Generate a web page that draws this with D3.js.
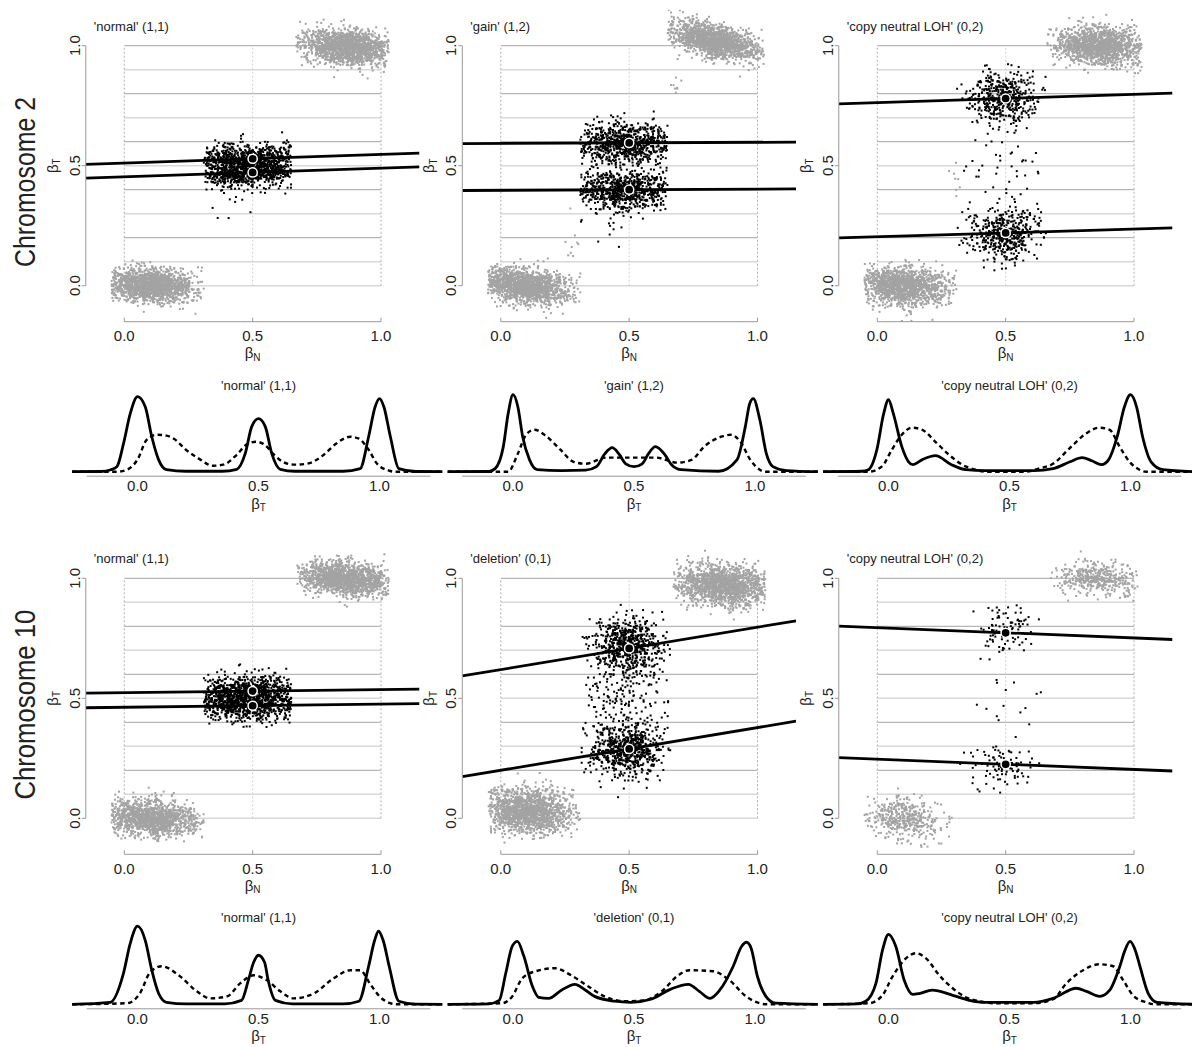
<!DOCTYPE html>
<html lang="en">
<head>
<meta charset="utf-8" />
<script src="https://d3js.org/d3.v7.min.js"></script>
<style>
  html, body { margin: 0; padding: 0; background: #fff; }
  text { font-family: "Liberation Sans", Arial, sans-serif; fill: #222; }
</style>
</head>
<body>
<svg id="canvas" width="1192" height="1047"></svg>
<script>
// ---- data ----
const panelTitles = ["'normal' (1,1)", "'gain' (1,2)", "'copy neutral LOH' (0,2)",
                     "'normal' (1,1)", "'deletion' (0,1)", "'copy neutral LOH' (0,2)"];
const rowLabels = ["Chromosome 2", "Chromosome 10"];
const tickValues = [0, 0.5, 1];
const tickLabels = ["0.0", "0.5", "1.0"];

// fitted lines: beta_T at beta_N = 0.5, and slope, two per panel
const fitMeans  = [[0.529, 0.472], [0.595, 0.400], [0.780, 0.220], [0.530, 0.469], [0.708, 0.289], [0.773, 0.225]];
const fitSlopes = [[0.036, 0.036], [0.005, 0.005], [0.034, 0.032], [0.013, 0.013], [0.177, 0.178], [-0.043, -0.043]];

// SNP clouds: panel, genotype group, n, muN, sdN, loN, hiN, muT, sdT, tilt
const clusters = [
  [0, "hom", 1500, 0.10, 0.09, -0.05, 0.31, 0.000, 0.035, -0.06],
  [0, "hom", 1500, 0.87, 0.09, 0.67, 1.03, 0.995, 0.035, -0.08],
  [0, "het", 650, 0.48, 0.11, 0.31, 0.65, 0.530, 0.032, 0.036],
  [0, "het", 650, 0.48, 0.11, 0.31, 0.65, 0.472, 0.032, 0.036],
  [0, "het", 8, 0.40, 0.06, 0.31, 0.60, 0.330, 0.040, 0],
  [1, "hom", 1500, 0.09, 0.09, -0.05, 0.31, 0.000, 0.035, -0.15],
  [1, "hom", 1500, 0.83, 0.09, 0.65, 1.03, 1.020, 0.035, -0.25],
  [1, "het", 750, 0.48, 0.11, 0.31, 0.65, 0.595, 0.042, 0.005],
  [1, "het", 750, 0.48, 0.11, 0.31, 0.65, 0.400, 0.042, 0.005],
  [1, "het", 10, 0.40, 0.05, 0.31, 0.50, 0.240, 0.040, 0],
  [1, "hom", 10, 0.29, 0.02, 0.25, 0.31, 0.160, 0.050, 0],
  [1, "hom", 8, 0.69, 0.02, 0.66, 0.73, 0.850, 0.040, 0],
  [2, "hom", 1400, 0.10, 0.09, -0.05, 0.31, 0.000, 0.040, -0.05],
  [2, "hom", 1400, 0.87, 0.09, 0.66, 1.03, 1.000, 0.040, -0.05],
  [2, "het", 450, 0.49, 0.07, 0.31, 0.66, 0.780, 0.055, 0.03],
  [2, "het", 450, 0.49, 0.07, 0.31, 0.66, 0.220, 0.055, 0.03],
  [2, "het", 35, 0.48, 0.11, 0.31, 0.66, 0.500, 0.070, 0],
  [2, "hom", 8, 0.31, 0.02, 0.27, 0.33, 0.450, 0.050, 0],
  [3, "hom", 1400, 0.10, 0.09, -0.05, 0.31, 0.000, 0.035, -0.05],
  [3, "hom", 1400, 0.86, 0.09, 0.67, 1.03, 1.000, 0.035, -0.08],
  [3, "het", 650, 0.48, 0.11, 0.31, 0.65, 0.530, 0.032, 0.013],
  [3, "het", 650, 0.48, 0.11, 0.31, 0.65, 0.469, 0.032, 0.013],
  [4, "hom", 1500, 0.10, 0.09, -0.05, 0.31, 0.030, 0.045, -0.05],
  [4, "hom", 1500, 0.87, 0.09, 0.67, 1.03, 0.970, 0.040, -0.05],
  [4, "het", 650, 0.49, 0.07, 0.31, 0.66, 0.710, 0.060, 0],
  [4, "het", 650, 0.49, 0.07, 0.31, 0.66, 0.290, 0.060, 0],
  [4, "het", 140, 0.48, 0.11, 0.31, 0.66, 0.500, 0.080, 0],
  [5, "hom", 420, 0.10, 0.08, -0.05, 0.31, 0.000, 0.040, -0.12],
  [5, "hom", 420, 0.86, 0.08, 0.66, 1.03, 1.000, 0.035, -0.05],
  [5, "het", 90, 0.50, 0.07, 0.31, 0.66, 0.780, 0.060, 0],
  [5, "het", 90, 0.50, 0.07, 0.31, 0.66, 0.220, 0.050, 0],
  [5, "het", 15, 0.52, 0.10, 0.31, 0.66, 0.470, 0.070, 0]
];

// density of beta_T, [beta, density], solid and dotted curve per panel
const densitySolid = [
  [[-0.27,0],[-0.15,0.01],[-0.11,0.09],[-0.085,0.23],[-0.058,1.27],[-0.03,2.64],[0,3.41],[0.032,2.95],[0.059,1.59],[0.087,0.55],[0.12,0.09],[0.2,0.02],[0.35,0.02],[0.41,0.11],[0.445,0.82],[0.472,2.05],[0.5,2.41],[0.528,2.05],[0.555,0.82],[0.59,0.11],[0.65,0.02],[0.85,0.02],[0.92,0.14],[0.955,1.59],[0.982,2.95],[1,3.32],[1.018,2.95],[1.045,1.59],[1.08,0.14],[1.15,0.01],[1.26,0]],
  [[-0.27,0],[-0.1,0.01],[-0.074,0.14],[-0.04,1.14],[-0.02,2.64],[0,3.5],[0.02,2.95],[0.04,1.59],[0.068,0.55],[0.1,0.09],[0.2,0.05],[0.3,0.07],[0.345,0.23],[0.38,0.82],[0.41,1.09],[0.44,0.77],[0.466,0.36],[0.5,0.23],[0.534,0.36],[0.56,0.82],[0.588,1.14],[0.628,0.77],[0.655,0.32],[0.696,0.09],[0.85,0.02],[0.926,0.55],[0.96,2.05],[0.978,3.09],[0.993,3.32],[1.02,2.36],[1.047,0.82],[1.074,0.23],[1.13,0.05],[1.26,0]],
  [[-0.27,0],[-0.11,0.02],[-0.083,0.09],[-0.048,1.0],[-0.02,2.64],[0,3.27],[0.02,2.64],[0.055,1.14],[0.083,0.45],[0.1,0.32],[0.14,0.55],[0.194,0.73],[0.26,0.32],[0.32,0.09],[0.4,0.05],[0.6,0.05],[0.68,0.14],[0.75,0.45],[0.8,0.64],[0.84,0.5],[0.88,0.32],[0.91,0.55],[0.945,1.59],[0.975,2.95],[1,3.5],[1.025,2.95],[1.05,1.59],[1.085,0.45],[1.134,0.09],[1.26,0]],
  [[-0.27,0],[-0.113,0.09],[-0.058,1.41],[-0.03,2.77],[0,3.55],[0.032,2.91],[0.059,1.55],[0.087,0.5],[0.12,0.09],[0.2,0.02],[0.36,0.02],[0.43,0.18],[0.458,1.09],[0.48,1.91],[0.5,2.23],[0.525,1.91],[0.54,1.09],[0.57,0.18],[0.64,0.02],[0.85,0.02],[0.915,0.14],[0.955,1.73],[0.98,2.91],[0.996,3.32],[1.015,2.91],[1.04,1.73],[1.08,0.14],[1.15,0.01],[1.26,0]],
  [[-0.27,0],[-0.1,0.02],[-0.057,0.18],[-0.03,1.41],[-0.003,2.64],[0.018,2.86],[0.045,2.18],[0.08,0.82],[0.106,0.32],[0.147,0.27],[0.2,0.64],[0.256,0.91],[0.3,0.64],[0.337,0.36],[0.42,0.14],[0.487,0.09],[0.57,0.23],[0.65,0.68],[0.725,0.91],[0.77,0.59],[0.814,0.27],[0.854,0.64],[0.91,1.73],[0.945,2.64],[0.965,2.82],[0.984,2.55],[1.01,1.27],[1.045,0.36],[1.085,0.05],[1.26,0]],
  [[-0.27,0],[-0.13,0.02],[-0.094,0.14],[-0.052,0.95],[-0.025,2.45],[0,3.18],[0.03,2.64],[0.065,1.09],[0.1,0.45],[0.13,0.5],[0.18,0.64],[0.265,0.41],[0.334,0.18],[0.4,0.09],[0.6,0.09],[0.68,0.27],[0.776,0.73],[0.818,0.59],[0.873,0.36],[0.914,0.64],[0.956,1.73],[0.977,2.45],[0.998,2.86],[1.02,2.45],[1.039,1.73],[1.073,0.5],[1.11,0.09],[1.26,0]]
];
const densityDotted = [
  [[-0.27,0],[-0.085,0],[-0.044,0.09],[0,0.55],[0.038,1.45],[0.08,1.68],[0.12,1.64],[0.15,1.5],[0.2,1.0],[0.26,0.55],[0.31,0.27],[0.355,0.32],[0.41,0.77],[0.45,1.23],[0.49,1.36],[0.525,1.23],[0.56,0.82],[0.6,0.45],[0.645,0.32],[0.7,0.36],[0.77,0.77],[0.82,1.27],[0.88,1.59],[0.915,1.5],[0.955,1.0],[0.99,0.36],[1.04,0.05],[1.06,0],[1.26,0]],
  [[-0.27,0],[-0.02,0],[0.02,0.82],[0.054,1.68],[0.088,1.91],[0.14,1.59],[0.196,1.0],[0.25,0.45],[0.3,0.36],[0.385,0.64],[0.49,0.64],[0.59,0.64],[0.68,0.41],[0.74,0.55],[0.79,1.14],[0.86,1.59],[0.9,1.68],[0.94,1.36],[0.98,0.55],[1.02,0.09],[1.04,0],[1.26,0]],
  [[-0.27,0],[-0.083,0],[-0.028,0.23],[0.014,1.0],[0.055,1.68],[0.097,2.0],[0.138,1.91],[0.194,1.36],[0.25,0.77],[0.304,0.32],[0.36,0.09],[0.4,0],[0.567,0],[0.62,0.14],[0.68,0.36],[0.747,1.05],[0.816,1.73],[0.87,2.0],[0.913,1.91],[0.955,1.14],[0.996,0.45],[1.037,0.09],[1.065,0],[1.26,0]],
  [[-0.27,0],[-0.044,0.05],[0.01,0.5],[0.052,1.45],[0.1,1.73],[0.176,1.27],[0.245,0.59],[0.3,0.27],[0.37,0.36],[0.424,0.95],[0.48,1.32],[0.535,1.09],[0.59,0.59],[0.645,0.27],[0.73,0.5],[0.81,1.18],[0.88,1.55],[0.92,1.55],[0.96,0.95],[1.0,0.36],[1.044,0.05],[1.07,0],[1.26,0]],
  [[-0.27,0],[-0.044,0.05],[-0.003,0.36],[0.038,1.18],[0.093,1.5],[0.174,1.64],[0.24,1.32],[0.31,0.82],[0.378,0.36],[0.46,0.14],[0.54,0.18],[0.62,0.64],[0.677,1.27],[0.73,1.55],[0.827,1.5],[0.895,1.09],[0.963,0.36],[1.018,0.05],[1.05,0],[1.26,0]],
  [[-0.27,0],[-0.08,0.05],[-0.025,0.41],[0.017,1.27],[0.072,2.09],[0.113,2.32],[0.155,2.09],[0.21,1.32],[0.265,0.73],[0.32,0.32],[0.376,0.14],[0.43,0.05],[0.6,0.05],[0.68,0.23],[0.735,0.95],[0.804,1.55],[0.873,1.82],[0.928,1.73],[0.97,1.09],[1.01,0.41],[1.066,0.09],[1.1,0],[1.26,0]]
];

// ---- drawing ----
const svg = d3.select("#canvas");
const colStep = 376.5, rowStep = 532.6;

// seeded generator so the clouds are stable between runs
const z = d3.randomNormal.source(d3.randomLcg(0.4172))(0, 1);
function truncNormal(mu, sd, lo, hi) {
  let v;
  do { v = mu + sd * z(); } while (v < lo || v > hi);
  return v;
}

function betaLabel(sel, sub) {
  sel.append("tspan").text("\u03b2");
  sel.append("tspan").attr("font-size", 10).attr("dy", 2.5).text(sub);
}

panelTitles.forEach(function(title, p) {
  var row = Math.floor(p / 3), col = p % 3;
  var ox = col * colStep, oy = row * rowStep;
  var x = d3.scaleLinear().domain([0, 1]).range([124.3 + ox, 381 + ox]);
  var y = d3.scaleLinear().domain([0, 1]).range([285.7 + oy, 45.7 + oy]);
  var g = svg.append("g");

  g.append("clipPath").attr("id", "clip" + p).append("rect")
    .attr("x", x(-0.15)).attr("y", y(1.15))
    .attr("width", x(1.15) - x(-0.15)).attr("height", y(-0.15) - y(1.15));

  // grid
  g.selectAll(".hgrid").data(d3.range(0, 11)).join("line")
    .attr("x1", x(0)).attr("x2", x(1))
    .attr("y1", d => y(d / 10)).attr("y2", d => y(d / 10))
    .attr("stroke", d => (d % 2 === 0 && d > 0) ? "#a4a4a4" : "#d8d8d8")
    .attr("stroke-width", d => (d % 2 === 0 && d > 0) ? 1 : 1.6);
  g.selectAll(".vgrid").data(tickValues).join("line")
    .attr("x1", d => x(d)).attr("x2", d => x(d))
    .attr("y1", y(0)).attr("y2", y(1))
    .attr("stroke", d => d === 0.5 ? "#cfcfcf" : "#b0b0b0")
    .attr("stroke-dasharray", "2,2").attr("stroke-width", 1);

  // points
  var pts = [];
  clusters.filter(c => c[0] === p).forEach(function(c) {
    for (var i = 0; i < c[2]; i++) {
      var bn = truncNormal(c[3], c[4], c[5], c[6]);
      var bt = c[7] + c[9] * (bn - c[3]) + c[8] * z();
      pts.push({ n: bn, t: bt, g: c[1] });
    }
  });
  pts.sort((a, b) => (a.g === "het") - (b.g === "het"));
  g.append("g").attr("clip-path", "url(#clip" + p + ")")
    .selectAll("rect").data(pts).join("rect")
    .attr("x", d => x(d.n) - 1).attr("y", d => y(d.t) - 1)
    .attr("width", 2).attr("height", 2)
    .attr("fill", d => d.g === "het" ? "#000" : "#a3a3a3");

  // fitted lines
  var fits = fitMeans[p].map((m, k) => ({ m: m, s: fitSlopes[p][k] }));
  g.append("g").attr("clip-path", "url(#clip" + p + ")")
    .selectAll("line").data(fits).join("line")
    .attr("x1", x(-0.15)).attr("x2", x(1.15))
    .attr("y1", d => y(d.m + d.s * (-0.15 - 0.5)))
    .attr("y2", d => y(d.m + d.s * (1.15 - 0.5)))
    .attr("stroke", "#000").attr("stroke-width", 2.8);
  g.selectAll("circle").data(fits).join("circle")
    .attr("cx", x(0.5)).attr("cy", d => y(d.m)).attr("r", 4.6)
    .attr("fill", "#000").attr("stroke", "#fff").attr("stroke-width", 1.5);

  // axes
  g.append("line").attr("x1", x(-0.15)).attr("x2", x(-0.15))
    .attr("y1", y(0)).attr("y2", y(1)).attr("stroke", "#999");
  g.selectAll(".yt").data(tickValues).join("line")
    .attr("x1", x(-0.15) - 4).attr("x2", x(-0.15))
    .attr("y1", d => y(d)).attr("y2", d => y(d)).attr("stroke", "#999");
  g.selectAll(".ytl").data(tickValues).join("text")
    .attr("transform", d => "translate(" + (x(-0.15) - 6) + "," + y(d) + ") rotate(-90)")
    .attr("text-anchor", "middle").attr("font-size", 15)
    .text((d, i) => tickLabels[i]);
  g.append("line").attr("x1", x(0)).attr("x2", x(1))
    .attr("y1", y(-0.15)).attr("y2", y(-0.15)).attr("stroke", "#999");
  g.selectAll(".xt").data(tickValues).join("line")
    .attr("x1", d => x(d)).attr("x2", d => x(d))
    .attr("y1", y(-0.15)).attr("y2", y(-0.15) - 4).attr("stroke", "#999");
  g.selectAll(".xtl").data(tickValues).join("text")
    .attr("x", d => x(d)).attr("y", y(-0.15) + 19.5)
    .attr("text-anchor", "middle").attr("font-size", 15)
    .text((d, i) => tickLabels[i]);
  g.append("text").attr("x", x(0.5)).attr("y", y(-0.15) + 36.5)
    .attr("text-anchor", "middle").attr("font-size", 15).call(betaLabel, "N");
  g.append("text")
    .attr("transform", "translate(" + (x(-0.15) - 28) + "," + y(0.5) + ") rotate(-90)")
    .attr("text-anchor", "middle").attr("font-size", 15).call(betaLabel, "T");

  g.append("text").attr("x", x(-0.15) + 8).attr("y", y(1.15) + 21)
    .attr("font-size", 13).text(title);
});

rowLabels.forEach(function(label, r) {
  svg.append("text")
    .attr("transform", "translate(35," + (267 + r * rowStep) + ") rotate(-90)")
    .attr("font-family", "'Open Sans', 'Noto Sans', sans-serif")
    .attr("font-size", 29)
    .attr("textLength", r === 0 ? 170 : 190).attr("lengthAdjust", "spacingAndGlyphs")
    .text(label);
});

densitySolid.forEach(function(curve, p) {
  var row = Math.floor(p / 3), col = p % 3;
  var ox = col * 375.5, oy = row * rowStep;
  var x = d3.scaleLinear().domain([0, 1]).range([137.5 + ox, 379.5 + ox]);
  var y = d3.scaleLinear().domain([0, 1]).range([471.7 + oy, 449.7 + oy]);
  var g = svg.append("g");
  var line = d3.line().x(d => x(d[0])).y(d => y(d[1])).curve(d3.curveMonotoneX);

  g.append("line").attr("x1", x(-0.21)).attr("x2", x(1.21))
    .attr("y1", 476.2 + oy).attr("y2", 476.2 + oy).attr("stroke", "#999");
  g.selectAll(".dtl").data(tickValues).join("text")
    .attr("x", d => x(d)).attr("y", 491 + oy)
    .attr("text-anchor", "middle").attr("font-size", 15)
    .text((d, i) => tickLabels[i]);
  g.append("text").attr("x", x(0.5)).attr("y", 508.5 + oy)
    .attr("text-anchor", "middle").attr("font-size", 15).call(betaLabel, "T");
  g.append("text").attr("x", x(0.5)).attr("y", 389.5 + oy)
    .attr("text-anchor", "middle").attr("font-size", 13).text(panelTitles[p]);

  g.append("path").attr("d", line(densityDotted[p]))
    .attr("fill", "none").attr("stroke", "#000").attr("stroke-width", 2.4)
    .attr("stroke-dasharray", "4.5,3.5");
  g.append("path").attr("d", line(curve))
    .attr("fill", "none").attr("stroke", "#000").attr("stroke-width", 2.8)
    .attr("stroke-linejoin", "round");
});
</script>
</body>
</html>
